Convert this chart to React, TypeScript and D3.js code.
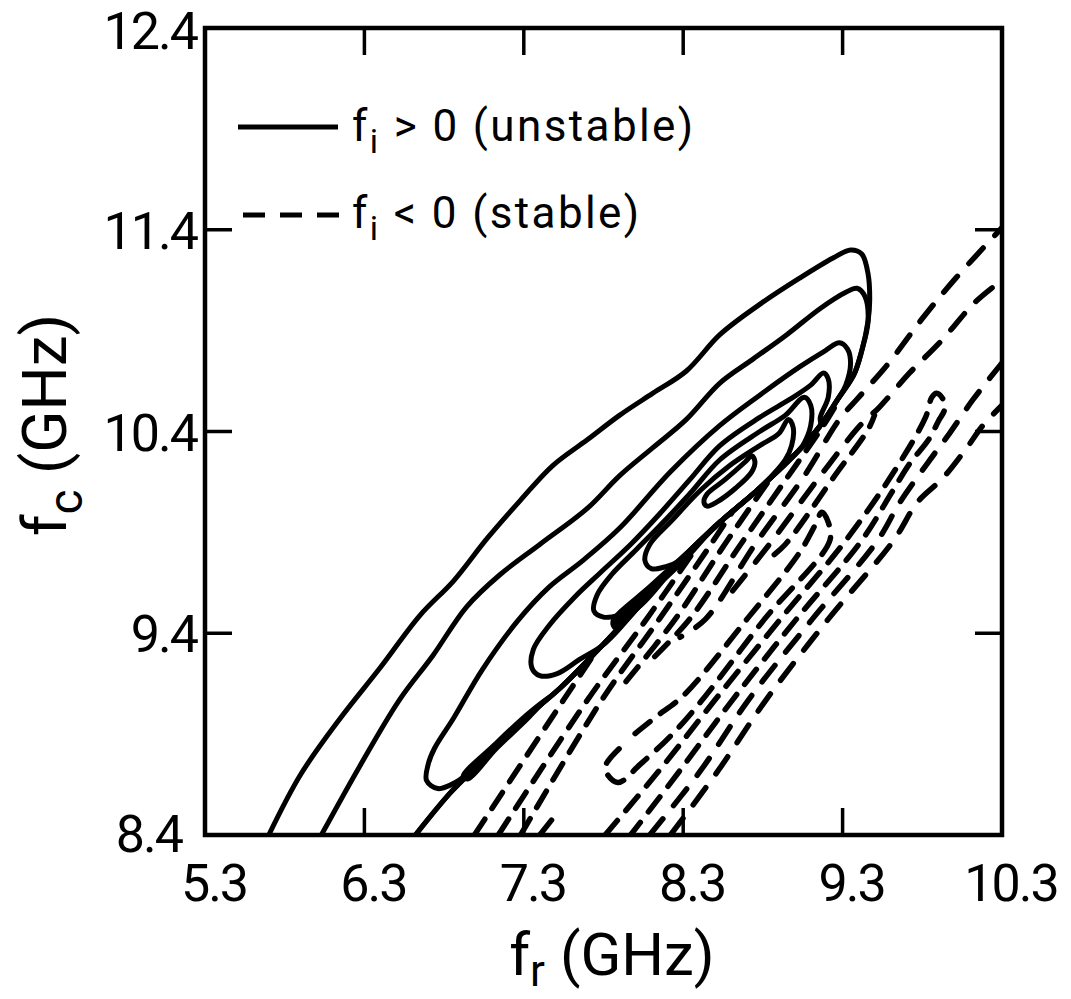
import React from 'react';
import * as d3 from 'd3';

type P = [number, number];

// axis tick values (GHz)
const xTickValues = [5.3, 6.3, 7.3, 8.3, 9.3, 10.3];
const yTickValues = [8.4, 9.4, 10.4, 11.4, 12.4];
const xInnerTicks = [6.3, 7.3, 8.3, 9.3];
const yInnerTicks = [9.4, 10.4, 11.4];

// f_i = 0 boundary (shared lower-right edge of the unstable contours), top -> bottom
const boundary: P[] = [
  [9.46, 10.95], [9.42, 10.8], [9.37, 10.68], [9.27, 10.56], [9.16, 10.43], [9.03, 10.31],
  [8.78, 10.12], [8.53, 9.95], [8.28, 9.76], [8.03, 9.54], [7.78, 9.33], [7.53, 9.13],
  [7.28, 8.96], [7.03, 8.76], [6.84, 8.61], [6.62, 8.4],
];

// solid contours (f_i > 0)
const solid1Upper: P[] = [
  [5.7, 8.4], [5.9, 8.7], [6.15, 8.98], [6.4, 9.23], [6.65, 9.49], [6.86, 9.66], [7.07, 9.87],
  [7.28, 10.06], [7.48, 10.23], [7.7, 10.36], [7.9, 10.48], [8.11, 10.59], [8.32, 10.7],
  [8.53, 10.88], [8.78, 11.03], [9.03, 11.16], [9.24, 11.26], [9.35, 11.3], [9.42, 11.28],
  [9.46, 11.18], [9.47, 11.05],
];
const solid2Upper: P[] = [
  [6.03, 8.4], [6.27, 8.74], [6.52, 9.07], [6.73, 9.29], [6.94, 9.53], [7.15, 9.69], [7.4, 9.84],
  [7.7, 10.02], [7.9, 10.18], [8.11, 10.32], [8.32, 10.46], [8.53, 10.64], [8.74, 10.76],
  [8.95, 10.88], [9.16, 11.01], [9.32, 11.09], [9.39, 11.11], [9.44, 11.07],
];
const solid3Edge: P[] = [
  [7.03, 8.76], [6.87, 8.66], [6.76, 8.63], [6.69, 8.67], [6.7, 8.75], [6.74, 8.83], [6.86, 8.98],
  [7.04, 9.22], [7.26, 9.46], [7.46, 9.63], [7.67, 9.76], [7.9, 9.92], [8.22, 10.2], [8.53, 10.43],
  [8.78, 10.58], [9.03, 10.72], [9.19, 10.8], [9.28, 10.84], [9.33, 10.81], [9.35, 10.74], [9.32, 10.63],
];
const solid4Edge: P[] = [
  [7.81, 9.35], [7.65, 9.27], [7.51, 9.2], [7.4, 9.19], [7.35, 9.23], [7.36, 9.32], [7.46, 9.44],
  [7.62, 9.58], [7.78, 9.7], [7.97, 9.84], [8.15, 9.99], [8.34, 10.16], [8.53, 10.33], [8.78, 10.47],
  [8.97, 10.56], [9.1, 10.63], [9.18, 10.69], [9.21, 10.66], [9.21, 10.57], [9.16, 10.47],
];
const solid5Edge: P[] = [
  [8.02, 9.53], [7.9, 9.49], [7.8, 9.48], [7.74, 9.51], [7.76, 9.59], [7.85, 9.69], [8.0, 9.81],
  [8.15, 9.93], [8.34, 10.09], [8.53, 10.26], [8.78, 10.4], [8.94, 10.48], [9.06, 10.57],
  [9.1, 10.53], [9.1, 10.43], [9.05, 10.33],
];
const solid6Edge: P[] = [
  [8.19, 9.73], [8.1, 9.72], [8.06, 9.76], [8.09, 9.84], [8.23, 9.96], [8.41, 10.11], [8.59, 10.23],
  [8.78, 10.33], [8.9, 10.39], [8.96, 10.46], [8.99, 10.42], [8.98, 10.33], [8.94, 10.26],
];
const solid7Loop: P[] = [
  [8.43, 10.05], [8.45, 10.09], [8.56, 10.16], [8.69, 10.25], [8.73, 10.28], [8.75, 10.25],
  [8.73, 10.2], [8.63, 10.12], [8.51, 10.05], [8.45, 10.03],
];
// dark slivers where contours pile up against the boundary
const sliver1: P[] = [[6.91, 8.69], [7.12, 8.86], [7.34, 9.02], [7.48, 9.1], [7.34, 8.98], [7.13, 8.82], [6.95, 8.67]];
const sliver2: P[] = [[7.85, 9.46], [8.09, 9.64], [8.34, 9.82], [8.54, 9.97], [8.34, 9.78], [8.09, 9.59], [7.87, 9.42]];

// dashed contours (f_i < 0) — band next to the boundary
const dashBand1: P[][] = [
  [[6.99, 8.4], [7.55, 9.07], [7.93, 9.52]],
  [[7.14, 8.4], [7.7, 9.07], [8.07, 9.47], [8.37, 9.81]],
  [[7.28, 8.4], [7.79, 9.07], [8.15, 9.47], [8.49, 9.86], [8.78, 10.21]],
  [[7.4, 8.4], [7.48, 8.48]],
  [[7.92, 9.14], [8.25, 9.47], [8.56, 9.84], [8.86, 10.18], [9.03, 10.36]],
  [[8.09, 9.26], [8.34, 9.47], [8.66, 9.84], [8.96, 10.18], [9.18, 10.43], [9.28, 10.56]],
  [[8.84, 9.77], [8.94, 9.84], [9.25, 10.18], [9.46, 10.41], [9.5, 10.48]],
];
// long dashed contours reaching the right frame
const dashLong1: P[] = [
  [8.28, 9.38], [8.44, 9.47], [8.75, 9.84], [9.06, 10.18], [9.28, 10.46], [9.39, 10.56],
  [9.58, 10.73], [9.8, 10.96], [10.01, 11.16], [10.3, 11.41],
];
const dashLong2: P[] = [
  [8.61, 9.61], [8.84, 9.84], [9.16, 10.18], [9.41, 10.43], [9.53, 10.52], [9.72, 10.69],
  [9.92, 10.85], [10.13, 11.04], [10.3, 11.15],
];
const dashLong3: P[] = [
  [8.09, 8.4], [8.41, 8.72], [8.71, 9.07], [9.11, 9.47], [9.52, 9.86], [9.66, 10.05], [9.83, 10.24],
  [9.97, 10.39], [10.12, 10.56], [10.3, 10.74],
];
const dashLong4: P[] = [
  [8.22, 8.4], [8.52, 8.72], [8.82, 9.07], [9.21, 9.47], [9.62, 9.86], [9.77, 10.05], [9.93, 10.17],
  [10.08, 10.32], [10.18, 10.43], [10.3, 10.53],
];
// closed dashed loop (tips near 7.8/8.73 and 9.17/10.0)
const dashLoop: P[] = [
  [7.81, 8.73], [7.94, 8.86], [8.12, 8.98], [8.3, 9.09], [8.7, 9.47], [9.03, 9.8], [9.13, 9.94],
  [9.17, 10.0], [9.21, 9.95], [9.22, 9.86], [8.81, 9.47], [8.41, 9.06], [8.22, 8.89], [8.03, 8.75], [7.89, 8.66],
];
// dashed hairpin with hooked tip near 9.9/10.59
const dashHook: P[] = [
  [7.81, 8.4], [8.15, 8.72], [8.5, 9.07], [8.91, 9.47], [9.32, 9.86], [9.63, 10.21], [9.82, 10.47],
  [9.86, 10.57], [9.89, 10.59], [9.93, 10.56], [9.94, 10.51], [9.9, 10.45], [9.84, 10.36],
  [9.72, 10.24], [9.61, 10.1], [9.42, 9.86], [9.01, 9.47], [8.61, 9.07], [8.28, 8.72], [7.97, 8.4],
];

const W = 1071;
const H = 999;
const L = 205, R = 1002, T = 28, B = 835;

export default function App() {
  const x = d3.scaleLinear().domain([5.3, 10.3]).range([L, R]);
  const y = d3.scaleLinear().domain([8.4, 12.4]).range([B, T]);
  const open = d3.line<P>().x(d => x(d[0])).y(d => y(d[1])).curve(d3.curveCatmullRom.alpha(0.5));
  const closed = d3.line<P>().x(d => x(d[0])).y(d => y(d[1])).curve(d3.curveCatmullRomClosed.alpha(0.5));
  const poly = d3.line<P>().x(d => x(d[0])).y(d => y(d[1]));
  // phase dashes so that neighbouring contours' dashes sit side by side
  const phase = (d: P[]) => (B - y(d[0][1])) / 0.8;

  const solidOpen: P[][] = [
    [...solid1Upper, ...boundary],
    [...solid2Upper, ...boundary],
  ];
  const solidClosed: P[][] = [
    [...solid3Edge, ...boundary.slice(3, 13)],
    [...solid4Edge, ...boundary.slice(4, 10)],
    [...solid5Edge, ...boundary.slice(5, 9)],
    [...solid6Edge, ...boundary.slice(6, 9)],
    solid7Loop,
  ];
  // stable side of the boundary: region to the right of it
  const stableRegion: P[] = [...boundary, [10.3, 8.4], [10.3, 12.4], [9.46, 12.4]];

  const font = 'Roboto, "DejaVu Sans", sans-serif';
  const sw = 5;
  const dsw = 5.5;

  return (
    <svg width={W} height={H} style={{ position: 'absolute', left: 0, top: 0, background: '#fff' }}>
      <defs>
        <clipPath id="plot">
          <rect x={L} y={T} width={R - L} height={B - T} />
        </clipPath>
        <clipPath id="stable">
          <path d={(poly(stableRegion) || '') + 'Z'} />
        </clipPath>
      </defs>
      <rect x={0} y={0} width={W} height={H} fill="#fff" />
      <g clipPath="url(#plot)">
        <g clipPath="url(#stable)" fill="none" stroke="#000" strokeLinecap="round" strokeWidth={dsw}>
          {dashBand1.map((d, i) => (
            <path key={'b' + i} d={open(d) || ''} strokeDasharray="19 13" strokeDashoffset={phase(d)} />
          ))}
          {[dashLong1, dashLong2, dashLong3, dashLong4].map((d, i) => (
            <path key={'l' + i} d={open(d) || ''} strokeDasharray="21 17" strokeDashoffset={phase(d)} />
          ))}
          <path d={closed(dashLoop) || ''} strokeDasharray="19 13" strokeDashoffset={phase(dashLoop)} />
          <path d={open(dashHook) || ''} strokeDasharray="19 13" />
        </g>
        <g fill="none" stroke="#000" strokeLinecap="round" strokeLinejoin="round" strokeWidth={sw}>
          {solidOpen.map((d, i) => (
            <path key={'so' + i} d={open(d) || ''} />
          ))}
          {solidClosed.map((d, i) => (
            <path key={'sc' + i} d={closed(d) || ''} />
          ))}
        </g>
        {[sliver1, sliver2].map((d, i) => (
          <path key={'sl' + i} d={closed(d) || ''} fill="#000" stroke="#000" strokeWidth={2} />
        ))}
      </g>
      {/* frame */}
      <rect x={L} y={T} width={R - L} height={B - T} fill="none" stroke="#000" strokeWidth={4.5} />
      {/* ticks */}
      <g stroke="#000" strokeWidth={3.5}>
        {xInnerTicks.map(v => (
          <g key={'xt' + v}>
            <line x1={x(v)} x2={x(v)} y1={B} y2={B - 27} />
            <line x1={x(v)} x2={x(v)} y1={T} y2={T + 27} />
          </g>
        ))}
        {yInnerTicks.map(v => (
          <g key={'yt' + v}>
            <line x1={L} x2={L + 27} y1={y(v)} y2={y(v)} />
            <line x1={R} x2={R - 27} y1={y(v)} y2={y(v)} />
          </g>
        ))}
      </g>
      {/* tick labels */}
      <g fontFamily={font} fontSize={52} fill="#000" letterSpacing={-2}>
        {xTickValues.map(v => (
          <text key={'xl' + v} x={x(v) + 9} y={901} textAnchor="middle">{v.toFixed(1)}</text>
        ))}
        {yTickValues.map((v, i) => (
          <text
            key={'yl' + v}
            x={i === 0 ? 182 : 197}
            y={y(v) + (i === 0 ? 17 : i === yTickValues.length - 1 ? 21 : 19)}
            textAnchor="end"
          >
            {v.toFixed(1)}
          </text>
        ))}
      </g>
      {/* axis titles */}
      <text x={612} y={975} fontFamily={font} fontSize={60} textAnchor="middle">
        f<tspan dy={11} fontSize={44}>r</tspan><tspan dy={-11}> (GHz)</tspan>
      </text>
      <text transform="translate(66,425) rotate(-90)" fontFamily={font} fontSize={62} textAnchor="middle">
        f<tspan dy={16} fontSize={48}>c</tspan><tspan dy={-16}> (GHz)</tspan>
      </text>
      {/* legend */}
      <line x1={238} x2={338} y1={127} y2={127} stroke="#000" strokeWidth={5} />
      <text x={352} y={141} fontFamily={font} fontSize={44} letterSpacing={2.4}>
        f<tspan dy={12} fontSize={34}>i</tspan><tspan dy={-12}> &gt; 0 (unstable)</tspan>
      </text>
      <line x1={243} x2={340} y1={215} y2={215} stroke="#000" strokeWidth={5} strokeDasharray="22 15" />
      <text x={352} y={228} fontFamily={font} fontSize={44} letterSpacing={2.4}>
        f<tspan dy={12} fontSize={34}>i</tspan><tspan dy={-12}> &lt; 0 (stable)</tspan>
      </text>
    </svg>
  );
}
